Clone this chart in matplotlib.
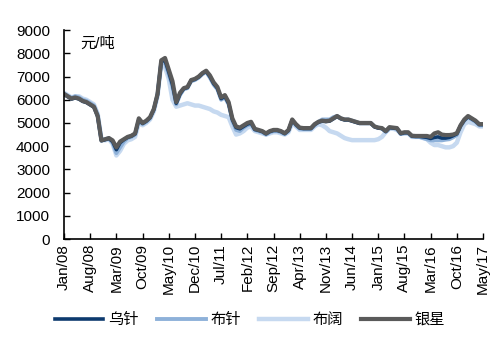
import matplotlib
matplotlib.use("Agg")
import matplotlib.pyplot as plt
import numpy as np

plt.rcParams["font.family"] = ["Liberation Sans", "Noto Sans CJK SC"]

# monthly prices, Jan/08 .. May/17 (元/吨)
yinxing = [
    6250, 6150, 6050, 6100, 6050, 5950, 5900, 5800, 5700, 5300,
    4250, 4300, 4350, 4250, 3950, 4200, 4300, 4400, 4450, 4550,
    5200, 5000, 5100, 5250, 5600, 6250, 7700, 7800, 7300, 6800,
    5900, 6300, 6500, 6550, 6850, 6900, 7000, 7150, 7250, 7050,
    6750, 6550, 6100, 6200, 5900, 5200, 4850, 4800, 4900, 5000,
    5050, 4750, 4700, 4650, 4550, 4650, 4700, 4700, 4650, 4560,
    4700, 5150, 4950, 4800, 4780, 4780, 4780, 4950, 5050, 5100,
    5080, 5100, 5200, 5300, 5200, 5150, 5150, 5100, 5050, 5000,
    5000, 5000, 5000, 4850, 4800, 4780, 4650, 4820, 4800, 4780,
    4560, 4600, 4600, 4450, 4440, 4440, 4440, 4440, 4400, 4550,
    4600, 4500, 4480, 4480, 4500, 4560, 4900, 5150, 5300, 5200,
    5100, 4950, 4950,
]
wuzhen = [
    6230, 6130, 6030, 6080, 6030, 5930, 5880, 5780, 5680, 5280,
    4230, 4280, 4330, 4200, 3850, 4150, 4280, 4380, 4430, 4530,
    5150, 4980, 5080, 5230, 5580, 6230, 7650, 7700, 7200, 6650,
    5850, 6250, 6480, 6530, 6830, 6880, 6980, 7130, 7230, 7000,
    6700, 6500, 6050, 6150, 5850, 5150, 4800, 4750, 4850, 4950,
    5000, 4720, 4680, 4630, 4530, 4630, 4680, 4680, 4630, 4540,
    4680, 5120, 4930, 4780, 4760, 4760, 4760, 4930, 5030, 5080,
    5060, 5080, 5180, 5280, 5180, 5130, 5130, 5080, 5030, 4980,
    4980, 4980, 4980, 4830, 4780, 4760, 4630, 4800, 4780, 4760,
    4540, 4580, 4580, 4430, 4420, 4420, 4400, 4380, 4330, 4380,
    4400, 4350, 4350, 4380, 4450, 4530, 4880, 5120, 5270, 5180,
    5080, 4930, 4930,
]
buzhen = [
    6270, 6170, 6080, 6150, 6100, 6000, 5950, 5850, 5750, 5350,
    4300, 4300, 4350, 4150, 3700, 3950, 4200, 4350, 4400, 4500,
    5100, 4950, 5050, 5200, 5550, 6200, 7600, 7600, 7100, 6550,
    5800, 6200, 6450, 6500, 6800, 6850, 6950, 7100, 7200, 6950,
    6650, 6450, 6000, 6100, 5800, 5100, 4700, 4650, 4800, 4900,
    4950, 4700, 4650, 4600, 4500, 4600, 4650, 4650, 4600, 4520,
    4650, 5100, 4900, 4750, 4740, 4740, 4740, 4900, 5050, 5150,
    5150, 5150, 5250, 5300, 5200, 5150, 5150, 5100, 5050, 5000,
    5000, 5000, 5000, 4850, 4800, 4760, 4620, 4780, 4780, 4750,
    4520, 4560, 4560, 4420, 4400, 4400, 4350, 4300, 4250, 4250,
    4250, 4250, 4280, 4300, 4380, 4480, 4850, 5100, 5250, 5150,
    5050, 4900, 4900,
]
bukuo = [
    6300, 6200, 6100, 6150, 6150, 6050, 6000, 5900, 5800, 5400,
    4300, 4250, 4300, 4100, 3600, 3800, 4100, 4250, 4300, 4400,
    5000, 4900, 5000, 5150, 5500, 6150, 7600, 7400, 6900, 6000,
    5700, 5750, 5800, 5850, 5800, 5750, 5750, 5700, 5650, 5600,
    5500, 5450, 5350, 5300, 5250, 4850, 4500, 4550, 4650, 4800,
    4850, 4650, 4600, 4550, 4500, 4550, 4600, 4600, 4550, 4500,
    4600, 5000, 4850, 4700, 4700, 4700, 4700, 4850, 4950, 4900,
    4800, 4650, 4600, 4550, 4450, 4350, 4300, 4260, 4260, 4260,
    4260, 4260, 4260, 4260, 4300, 4400, 4600, 4750, 4750, 4700,
    4550, 4550, 4550, 4400, 4400, 4400, 4350, 4300, 4150, 4050,
    4050, 4000, 3950, 3950, 4000, 4150, 4600, 4950, 5050, 5000,
    4950, 4850, 4850,
]

tick_labels = [
    "Jan/08", "Aug/08", "Mar/09", "Oct/09", "May/10", "Dec/10", "Jul/11",
    "Feb/12", "Sep/12", "Apr/13", "Nov/13", "Jun/14", "Jan/15", "Aug/15",
    "Mar/16", "Oct/16", "May/17",
]

months = np.arange(len(yinxing))

fig = plt.figure(figsize=(5, 3.5), dpi=100)
ax = fig.add_axes([0.128, 0.317, 0.838, 0.597])

ax.plot(months, bukuo, color="#c6d9f0", lw=3.2, label="布阔")
ax.plot(months, buzhen, color="#8eb1d9", lw=2.8, label="布针")
ax.plot(months, wuzhen, color="#0d3a6e", lw=2.6, label="乌针")
ax.plot(months, yinxing, color="#5a5a5a", lw=3.0, label="银星")

ax.set_xlim(0, 112)
ax.set_ylim(0, 9000)
ax.set_yticks(np.arange(0, 9001, 1000))
ax.set_xticks(np.arange(0, 113, 7))
ax.set_xticklabels(tick_labels, rotation=90)
ax.tick_params(direction="in", length=4, width=1, labelsize=11, colors="black")
ax.tick_params(axis="y", pad=10)
for s in ["top", "right"]:
    ax.spines[s].set_visible(False)
for s in ["left", "bottom"]:
    ax.spines[s].set_linewidth(1.2)

ax.text(0.04, 0.97, "元/吨", transform=ax.transAxes, fontsize=11,
        va="top", ha="left")

handles, labels = ax.get_legend_handles_labels()
order = [2, 1, 0, 3]
fig.legend([handles[i] for i in order], [labels[i] for i in order],
           loc="center", bbox_to_anchor=(0.5, 0.085), ncol=4, frameon=False,
           fontsize=11, handlelength=3.2, columnspacing=1.2, handletextpad=0.3)

fig.savefig("out.png", dpi=100)
